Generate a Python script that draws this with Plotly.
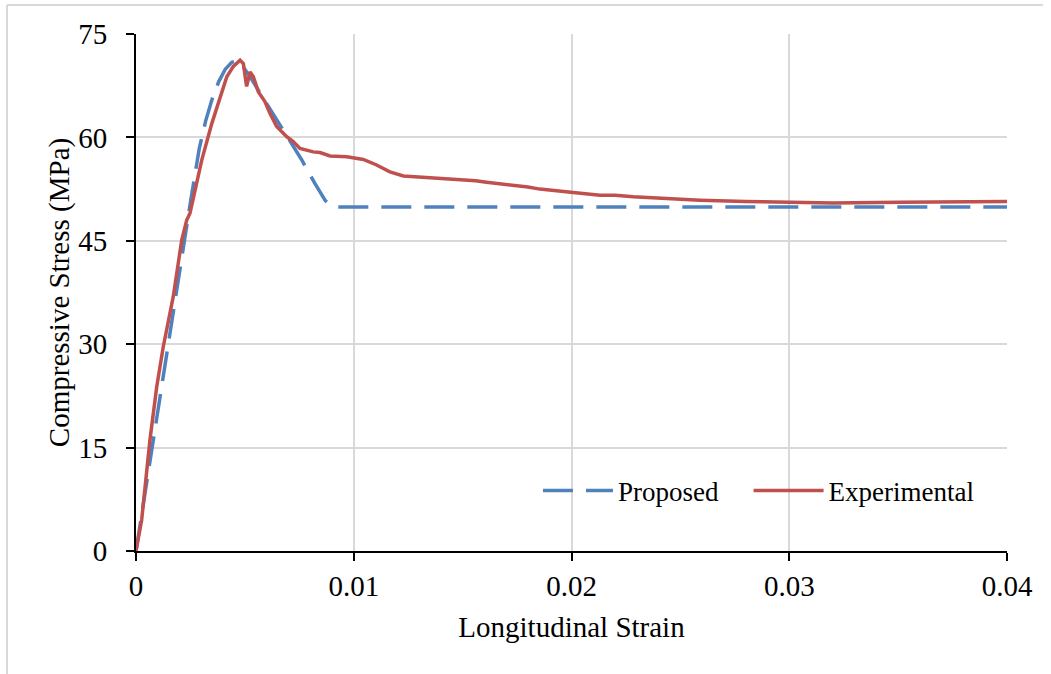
import plotly.graph_objects as go

# Proposed stress-strain model
proposed_strain = [0, 0.0005, 0.001, 0.0015, 0.002, 0.0025, 0.0029, 0.0032, 0.0035,
                   0.0038, 0.0041, 0.0044, 0.0047, 0.0052, 0.0058, 0.0064, 0.0070,
                   0.0076, 0.0082, 0.0087, 0.0091, 0.04]
proposed_stress = [0, 10.2, 20.3, 30.4, 40.5, 50.6, 58.3, 62.4, 65.6,
                   68.1, 69.9, 70.9, 71.2, 69.0, 65.9, 62.8, 59.9,
                   56.8, 53.4, 50.8, 49.9, 49.9]

# Experimental stress-strain record
exp_strain = [0, 0.00018, 0.00026, 0.00064, 0.00095, 0.00125, 0.00171, 0.0021, 0.00233,
              0.00248, 0.00263, 0.00302, 0.00348, 0.00386, 0.00417, 0.00447, 0.00478,
              0.00493, 0.00508, 0.00524, 0.00539, 0.00562, 0.00592, 0.00615, 0.00646,
              0.00692, 0.00722, 0.00753, 0.00814, 0.00845, 0.00891, 0.00968, 0.01044,
              0.01105, 0.01166, 0.01228, 0.01275, 0.01319, 0.01360, 0.01396, 0.01450,
              0.01503, 0.01560, 0.0161, 0.01670, 0.01733, 0.01800, 0.01855, 0.01930,
              0.02008, 0.02131, 0.02200, 0.02284, 0.02406, 0.0259, 0.0280, 0.0300,
              0.0320, 0.0350, 0.0380, 0.0400]
exp_stress = [0, 3.0, 4.5, 16.1, 23.8, 29.6, 36.9, 45.1, 48.0,
              49.0, 51.2, 56.7, 62.0, 65.9, 68.8, 70.3, 71.2,
              70.7, 67.4, 69.5, 68.8, 66.6, 65.2, 63.5, 61.6,
              60.1, 59.4, 58.4, 57.9, 57.8, 57.3, 57.2, 56.8,
              56.0, 55.0, 54.4, 54.3, 54.2, 54.2, 54.0, 54.0,
              53.8, 53.7, 53.5, 53.3, 53.0, 52.8, 52.5, 52.3,
              52.0, 51.6, 51.6, 51.4, 51.2, 50.9, 50.7, 50.6,
              50.5, 50.6, 50.7, 50.7]

x_ticks = [0, 0.01, 0.02, 0.03, 0.04]
x_tick_labels = ["0", "0.01", "0.02", "0.03", "0.04"]
y_ticks = [0, 15, 30, 45, 60, 75]

FONT = "Liberation Serif, Times New Roman, serif"
BLUE = "#4F81BD"
RED = "#C0504D"
GRID = "#D9D9D9"

fig = go.Figure()
fig.add_trace(go.Scatter(
    x=proposed_strain, y=proposed_stress, mode="lines", name="Proposed",
    line=dict(color=BLUE, width=3.5, dash="30px,13px"), legend="legend",
))
fig.add_trace(go.Scatter(
    x=exp_strain, y=exp_stress, mode="lines", name="Experimental",
    line=dict(color=RED, width=3.5), legend="legend2",
))

# light frame around the chart area
frame_left, frame_right = (7 - 136) / 871, (1043 - 136) / 871
frame_top, frame_bottom = (551 - 5) / 517, (551 - 674) / 517
fig.add_shape(type="line", xref="paper", yref="paper",
              x0=frame_left, x1=frame_left, y0=frame_bottom, y1=frame_top,
              line=dict(color=GRID, width=2))
fig.add_shape(type="line", xref="paper", yref="paper",
              x0=frame_left, x1=frame_right, y0=frame_top, y1=frame_top,
              line=dict(color=GRID, width=2))

legend_style = dict(
    orientation="h", y=0.116, xanchor="left", yanchor="middle",
    bgcolor="rgba(0,0,0,0)", font=dict(family=FONT, size=27, color="black"),
    itemwidth=70,
)

fig.update_layout(
    width=1051, height=674,
    margin=dict(l=136, r=44, t=34, b=123),
    paper_bgcolor="white", plot_bgcolor="white",
    font=dict(family=FONT, size=29, color="black"),
    showlegend=True,
    legend=dict(x=0.4615, **legend_style),
    legend2=dict(x=0.7033, **legend_style),
    xaxis=dict(
        range=[0, 0.04], tickvals=x_ticks, ticktext=x_tick_labels,
        showgrid=True, gridcolor=GRID, gridwidth=2,
        showline=True, linecolor="black", linewidth=2,
        ticks="outside", ticklen=8, tickwidth=2, tickcolor="black",
        zeroline=False,
        title=dict(text="Longitudinal Strain", font=dict(family=FONT, size=29), standoff=16),
    ),
    yaxis=dict(
        range=[0, 75], tickvals=y_ticks,
        showgrid=True, gridcolor=GRID, gridwidth=2,
        showline=True, linecolor="black", linewidth=2,
        ticks="outside", ticklen=8, tickwidth=2, tickcolor="black",
        ticklabelstandoff=13,
        zeroline=False,
        title=dict(text="Compressive Stress (MPa)", font=dict(family=FONT, size=29), standoff=0),
    ),
)

fig.write_html("out.html")
